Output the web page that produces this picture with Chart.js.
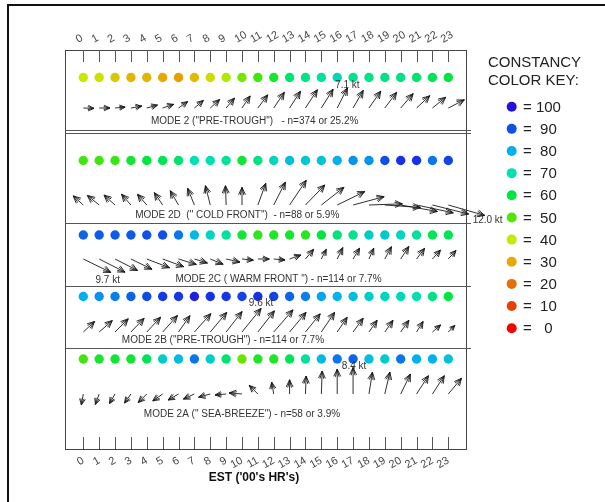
<!DOCTYPE html>
<html><head><meta charset="utf-8">
<script src="https://cdn.jsdelivr.net/npm/chart.js@4"></script>
<style>html,body{margin:0;padding:0;background:#fff;}#wrap{position:relative;width:605px;height:502px;}</style>
</head><body><div id="wrap"><canvas id="c" width="605" height="502"></canvas></div>
<script>
// ---------------- DATA ----------------
const hours = [0,1,2,3,4,5,6,7,8,9,10,11,12,13,14,15,16,17,18,19,20,21,22,23];
const modeLabels = [
  'MODE 2 ("PRE-TROUGH")   - n=374 or 25.2%',
  'MODE 2D  (" COLD FRONT")  - n=88 or 5.9%',
  'MODE 2C ( WARM FRONT ") - n=114 or 7.7%',
  'MODE 2B ("PRE-TROUGH") - n=114 or 7.7%',
  'MODE 2A (" SEA-BREEZE") - n=58 or 3.9%'
];
// constancy (%) per hour
const constancy2  = [40,39,35,32,32,30,28,33,38,42,47,52,57,64,66,68,72,67,66,66,66,64,62,60];
const constancy2D = [52,52,53,58,60,62,64,70,70,68,58,66,72,77,75,76,80,83,83,90,95,95,86,92];
const constancy2C = [88,89,89,89,90,90,86,78,72,68,58,54,56,57,55,60,65,67,74,75,72,68,62,62];
const constancy2B = [80,83,85,88,91,94,94,98,95,94,92,95,92,88,85,81,79,77,74,72,71,70,66,60];
const constancy2A = [52,57,58,58,62,74,78,86,74,64,48,56,56,62,68,78,86,88,77,74,86,80,79,76];
// resultant wind speed (kt) per hour
const speed2  = [3.4,3.4,3.2,3.5,3.5,3.7,3.5,3.7,4.0,4.1,4.6,5.2,6.0,6.3,6.9,7.0,7.1,6.4,6.5,6.2,6.0,5.7,5.4,5.7];
const speed2D = [4.3,4.8,4.7,4.5,4.5,4.7,5.2,5.7,6.3,6.1,5.6,7.3,8.1,9.4,8.8,9.1,9.7,10.2,10.6,11.3,11.8,11.9,11.8,12.0];
const speed2C = [9.7,9.2,8.0,7.4,7.7,7.1,5.9,4.3,4.4,4.5,3.6,3.6,3.6,3.8,4.0,3.4,4.0,4.0,3.7,4.4,4.7,4.2,3.8,3.6];
const speed2B = [4.9,5.5,5.9,6.0,6.4,7.0,6.3,7.8,8.1,8.2,9.6,8.5,9.3,8.1,7.4,7.5,5.6,5.4,4.5,4.5,4.5,3.9,3.4,2.9];
const speed2A = [3.5,3.5,3.5,3.5,3.8,3.8,3.8,3.8,3.8,3.5,4.1,3.8,3.8,4.5,5.7,7.3,7.9,8.4,7.0,7.1,7.0,6.9,6.9,6.5];
// direction the wind arrow points toward (compass degrees)
const dir2  = [92,90,85,80,75,72,55,50,48,40,34,37,34,33,33,32,27,30,35,37,41,47,51,63];
const dir2D = [312,309,312,319,319,326,330,338,346,358,0,20,27,34,44,52,64,75,88,94,100,102,104,106];
const dir2C = [116,117,117,116,111,110,107,107,112,103,96,90,95,71,40,27,26,31,24,28,33,37,42,42];
const dir2B = [47,49,45,44,43,42,35,42,40,38,39,38,41,40,39,34,34,36,35,35,35,32,49,45];
const dir2A = [190,200,210,215,225,235,240,245,255,265,275,315,350,0,2,2,0,0,9,13,26,33,33,40];
// colour key
const keyValues = [100,90,80,70,60,50,40,30,20,10,0];
const keyColors = ['#2211e0','#1050e8','#00b0f0','#00e0b0','#00e640','#50e600','#c8e800','#e8a800','#e87000','#e84000','#f80000'];
const keyLabels = ['= 100','=  90','=  80','=  70','=  60','=  50','=  40','=  30','=  20','=  10','=   0'];
const axisTitle = "EST ('00's HR's)";
const legendTitle = ['CONSTANCY','COLOR KEY:'];

// ---------------- LAYOUT (styling only) ----------------
const FONT = "'Liberation Sans', Arial, sans-serif";
const KT_PX = 3.15;
const panels = [
  {c: constancy2,  s: speed2,  d: dir2,  dotY: 77.5,  arrowY: 108, textX: 10.8, textY: 121,   lab: [0,-3]},
  {c: constancy2D, s: speed2D, d: dir2D, dotY: 160.5, arrowY: 205, textX: 9.7,  textY: 215.5, lab: [3,5]},
  {c: constancy2C, s: speed2C, d: dir2C, dotY: 235,   arrowY: 259, textX: 12.3, textY: 279.5, lab: [-3,8]},
  {c: constancy2B, s: speed2B, d: dir2B, dotY: 296.5, arrowY: 332, textX: 8.8,  textY: 340.5, lab: [0,-5]},
  {c: constancy2A, s: speed2A, d: dir2A, dotY: 359,   arrowY: 394, textX: 10.0, textY: 414.5, lab: [1,-1]}
];
const dividers = [129.5, 132.5, 222.5, 285.5, 347.5];

function hexToRgb(h){return [parseInt(h.substr(1,2),16),parseInt(h.substr(3,2),16),parseInt(h.substr(5,2),16)];}
function colorFor(v){
  for (let i=0;i<keyValues.length-1;i++){
    const hi=keyValues[i], lo=keyValues[i+1];
    if (v<=hi && v>=lo){
      const t=(v-lo)/(hi-lo);
      const a=hexToRgb(keyColors[i+1]), b=hexToRgb(keyColors[i]);
      const c=a.map((x,k)=>Math.round(x+(b[k]-x)*t));
      return `rgb(${c[0]},${c[1]},${c[2]})`;
    }
  }
  return keyColors[0];
}

function drawArrow(ctx, x, y, dirDeg, len){
  const a = dirDeg*Math.PI/180;
  const ux = Math.sin(a), uy = -Math.cos(a);
  const tx = x+ux*len, ty = y+uy*len;
  ctx.beginPath();
  ctx.moveTo(x,y); ctx.lineTo(tx,ty);
  const hl = Math.min(8, len*0.6);
  for (const sgn of [-1,1]) for (const w of [0.45,0.24]) {
    const ang = sgn*w, bx=-ux, by=-uy;
    const rx = bx*Math.cos(ang)-by*Math.sin(ang);
    const ry = bx*Math.sin(ang)+by*Math.cos(ang);
    ctx.moveTo(tx,ty); ctx.lineTo(tx+rx*hl, ty+ry*hl);
  }
  ctx.stroke();
  return [tx,ty];
}

const decor = {
  id:'decor',
  beforeDraw(chart){
    const ctx=chart.ctx;
    ctx.save();
    ctx.fillStyle='#fff'; ctx.fillRect(0,0,chart.width,chart.height);
    ctx.strokeStyle='#111'; ctx.lineWidth=2;
    ctx.beginPath(); ctx.moveTo(8,502); ctx.lineTo(8,5); ctx.lineTo(605,5); ctx.stroke();
    ctx.restore();
  },
  beforeDatasetsDraw(chart){
    const {ctx, chartArea:a, scales} = chart;
    const xs = scales.x, ys = scales.y;
    ctx.save();
    ctx.strokeStyle='#444'; ctx.lineWidth=1;
    ctx.strokeRect(a.left+0.5, a.top+0.5, a.right-a.left, a.bottom-a.top);
    ctx.strokeStyle='#555';
    dividers.forEach(v=>{
      const y=Math.round(ys.getPixelForValue(v))+0.5;
      ctx.beginPath(); ctx.moveTo(a.left, y); ctx.lineTo(a.right+5, y); ctx.stroke();
    });
    hours.forEach(h=>{
      const x=Math.round(xs.getPixelForValue(h))+0.5;
      ctx.beginPath(); ctx.moveTo(x,a.top); ctx.lineTo(x,a.top+12);
      ctx.moveTo(x,a.bottom-12); ctx.lineTo(x,a.bottom); ctx.stroke();
    });
    ctx.restore();
  },
  afterDatasetsDraw(chart){
    const {ctx, scales} = chart;
    const xs = scales.x, ys = scales.y;
    ctx.save();
    ctx.strokeStyle='#1a1a1a'; ctx.lineWidth=0.9;
    panels.forEach((p,pi)=>{
      let maxI=0;
      p.s.forEach((v,i)=>{ if(v>p.s[maxI]) maxI=i; });
      let tip=null;
      hours.forEach((h,i)=>{
        const t = drawArrow(ctx, xs.getPixelForValue(h), ys.getPixelForValue(p.arrowY), p.d[i], p.s[i]*KT_PX);
        if(i===maxI) tip=t;
      });
      ctx.fillStyle='#333'; ctx.font='10px '+FONT; ctx.textAlign='center'; ctx.textBaseline='middle';
      ctx.fillText(p.s[maxI].toFixed(1)+' kt', tip[0]+p.lab[0], tip[1]+p.lab[1]);
      ctx.fillText(modeLabels[pi], xs.getPixelForValue(p.textX), ys.getPixelForValue(p.textY));
    });
    ctx.fillStyle='#111'; ctx.font='bold 12px '+FONT; ctx.textAlign='center';
    ctx.fillText(axisTitle, 254, 478);
    ctx.fillStyle='#222'; ctx.font='15px '+FONT; ctx.textAlign='left';
    ctx.fillText(legendTitle[0], 488, 63);
    ctx.fillText(legendTitle[1], 488, 81);
    keyValues.forEach((v,i)=>{
      const y = 106.7 + i*22.15;
      ctx.beginPath(); ctx.fillStyle=keyColors[i]; ctx.arc(511.7, y, 5, 0, Math.PI*2); ctx.fill();
      ctx.fillStyle='#222'; ctx.fillText(keyLabels[i], 523, y+1);
    });
    ctx.restore();
  }
};

const datasets = panels.map((p,pi)=>({
  label: modeLabels[pi],
  data: hours.map(h=>({x:h, y:p.dotY})),
  pointBackgroundColor: p.c.map(colorFor),
  pointBorderWidth: 0,
  pointRadius: 4.7,
  pointHoverRadius: 4.7,
  showLine: false
}));

const tickFont = {family: FONT, size: 11};
new Chart(document.getElementById('c'), {
  type: 'scatter',
  data: { datasets },
  options: {
    responsive: false, animation: false, devicePixelRatio: 1,
    layout: { padding: {left: 65, right: 139, top: 0, bottom: 0} },
    plugins: { legend: {display:false}, tooltip: {enabled:false} },
    scales: {
      x: {
        type:'linear', position:'bottom', min:-1.153, max:24.115,
        grid:{display:false, drawTicks:false}, border:{display:false},
        afterBuildTicks: s => { s.ticks = hours.map(h=>({value:h})); },
        afterFit: s => { s.height = 53; },
        ticks:{autoSkip:false, minRotation:30, maxRotation:30, padding:5, color:'#444', font:tickFont, callback:v=>String(v)}
      },
      x2: {
        type:'linear', position:'top', min:-1.153, max:24.115,
        grid:{display:false, drawTicks:false}, border:{display:false},
        afterBuildTicks: s => { s.ticks = hours.map(h=>({value:h})); },
        afterFit: s => { s.height = 50; },
        ticks:{autoSkip:false, minRotation:30, maxRotation:30, padding:4, color:'#444', font:tickFont, callback:v=>String(v)}
      },
      y: { type:'linear', display:false, min:50, max:449, reverse:true }
    }
  },
  plugins: [decor]
});
</script></body></html>
